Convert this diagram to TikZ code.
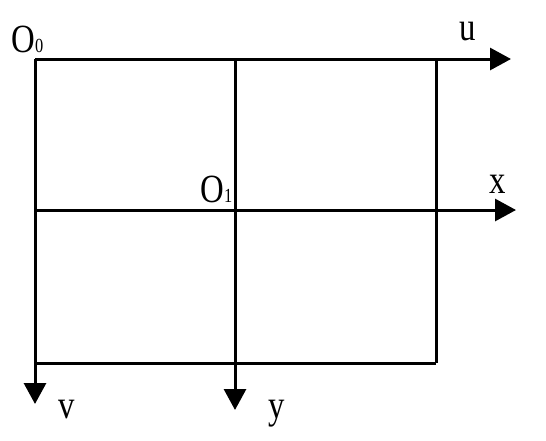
\documentclass[tikz,border=0pt]{standalone}
\usepackage{fontspec}
\setmainfont{Liberation Serif}
\newfontfamily\labfont[FakeStretch=0.82]{Liberation Serif}
\usepackage{tikz}
\usetikzlibrary{positioning, arrows.meta, calc}

\begin{document}
\begin{tikzpicture}[x=1pt,y=-1pt,>={Triangle[length=21pt,width=22pt]},
     line width=3pt, axislabel/.style={inner sep=0pt, anchor=base west,
     font=\labfont\fontsize{40}{40}\selectfont}]

  \useasboundingbox (0,0) rectangle (546,440);

  % corners and ends of the axes
  \coordinate (o0) at (35,59);
  \coordinate (tm) at (235,59);
  \coordinate (tr) at (436,59);
  \coordinate (ml) at (35,210);
  \coordinate (o1) at (235,210);
  \coordinate (bl) at (35,363);
  \coordinate (bm) at (235,363);
  \coordinate (br) at (436,363);
  \coordinate (uend) at (511,59);
  \coordinate (xend) at (516,210);
  \coordinate (vend) at (35,404);
  \coordinate (yend) at (235,410);

  \node[axislabel] (lo0) at (10,52) {O{\fontsize{20}{20}\selectfont 0}};
  \node[axislabel] (lo1) at (199,202) {O{\fontsize{20}{20}\selectfont 1}};
  \node[axislabel] (lu) at (458,40) {u};
  \node[axislabel] (lx) at (488,193) {x};
  \node[axislabel] (lv) at (57,418) {v};
  \node[axislabel] (ly) at (267,418) {y};

  \path[draw]
   (tr) -- (br)
   (br) -- (bl);
  \path[->]
   (o0) edge (uend)
   (o0) edge (vend)
   (ml) edge (xend)
   (tm) edge (yend);
 \end{tikzpicture}
\end{document}
